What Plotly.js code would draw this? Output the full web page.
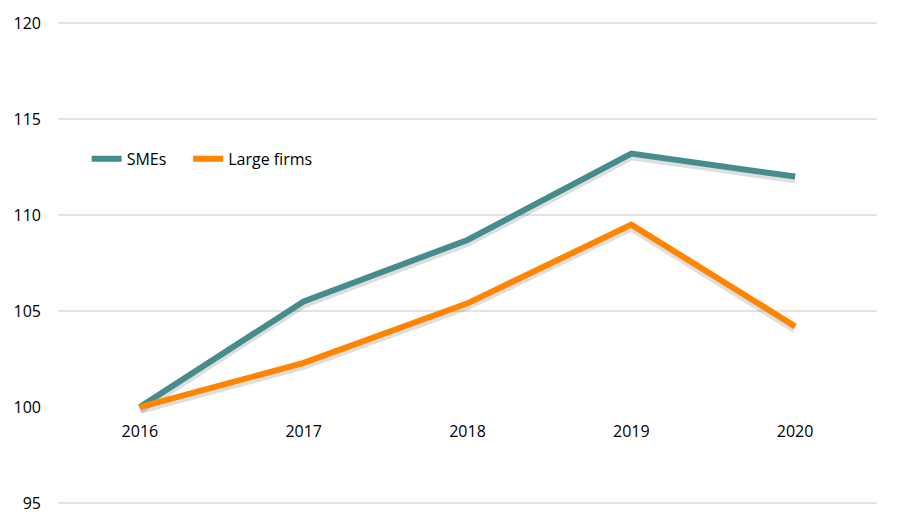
<!DOCTYPE html>
<html>
<head>
<meta charset="utf-8">
<script src="https://cdn.plot.ly/plotly-3.0.1.min.js"></script>
<style>html,body{margin:0;padding:0;background:#fff;}#chart{width:903px;height:530px;}</style>
</head>
<body>
<div id="chart"></div>
<script>
const years = ['2016', '2017', '2018', '2019', '2020'];
const smes = [100, 105.5, 108.7, 113.2, 112.0];
const largeFirms = [100, 102.3, 105.4, 109.5, 104.2];
const seriesNames = ['SMEs', 'Large firms'];
const yTicks = [95, 100, 105, 110, 115, 120];

const teal = '#478c8c';
const orange = '#ff8400';
const font = "'Open Sans', 'Noto Sans', sans-serif";

function shadow(y) {
  return {x: years, y: y, type: 'scatter', mode: 'lines', yaxis: 'y',
    line: {color: 'rgba(0,0,0,0.13)', width: 9}, showlegend: false, hoverinfo: 'skip'};
}

const traces = [
  shadow(smes), shadow(largeFirms),
  {x: years, y: smes, name: seriesNames[0], type: 'scatter', mode: 'lines', yaxis: 'y2',
   line: {color: teal, width: 6}, legend: 'legend'},
  {x: years, y: largeFirms, name: seriesNames[1], type: 'scatter', mode: 'lines', yaxis: 'y2',
   line: {color: orange, width: 6}, legend: 'legend2'}
];

const legendBase = {orientation: 'h', y: 0.715, xanchor: 'left', yanchor: 'middle',
  font: {family: font, size: 16, color: '#000'}, bgcolor: 'rgba(0,0,0,0)'};

const layout = {
  width: 903, height: 530,
  margin: {l: 58, r: 26, t: 21, b: 25},
  paper_bgcolor: '#fff', plot_bgcolor: '#fff',
  font: {family: font, size: 16, color: '#000'},
  showlegend: true,
  legend: Object.assign({}, legendBase, {x: 0.035}),
  legend2: Object.assign({}, legendBase, {x: 0.159}),
  xaxis: {type: 'category', range: [-0.5, 4.5], anchor: 'free', position: (100 - 94.9) / 25.2,
    showgrid: false, zeroline: false, showline: true, linecolor: '#ffffff', linewidth: 3,
    layer: 'below traces', ticks: '', ticklabelstandoff: 9, fixedrange: true},
  yaxis: {range: [95.02, 120.22], tickvals: yTicks, ticktext: yTicks.map(String),
    showgrid: false, zeroline: false, showline: false, showticklabels: false, fixedrange: true},
  yaxis2: {range: [94.9, 120.1], overlaying: 'y', tickvals: yTicks, ticktext: yTicks.map(String),
    side: 'left', showgrid: true, gridcolor: '#e3e3e3', gridwidth: 2, zeroline: false, showline: false,
    ticks: '', ticklabelstandoff: 16, fixedrange: true}
};

Plotly.newPlot('chart', traces, layout, {displayModeBar: false, staticPlot: true});
</script>
</body>
</html>
